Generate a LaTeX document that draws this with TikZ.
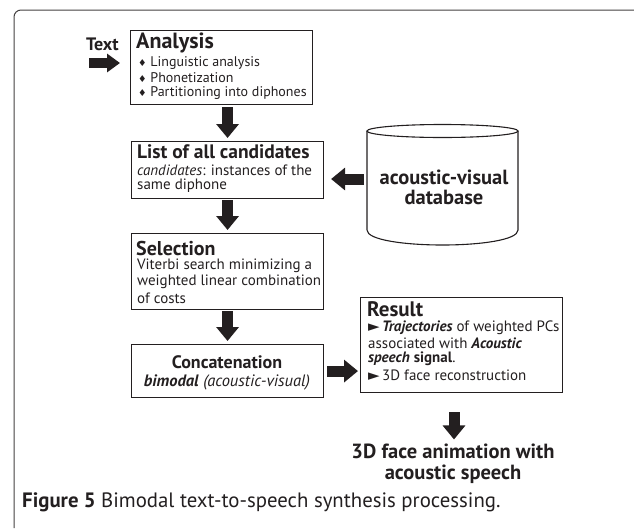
\documentclass[tikz,border=0pt]{standalone}
\usepackage{fontspec}
\setmainfont{PT Sans}
\newfontfamily\symf{DejaVu Sans}
\usetikzlibrary{arrows.meta}
\definecolor{ink}{HTML}{231F20}
\newcommand{\mydia}{{\symf\fontsize{9.5}{9.5}\selectfont ♦}}
\newcommand{\mytri}{{\symf\fontsize{15}{15}\selectfont ►}}
\begin{document}
\begin{tikzpicture}[x=1pt,y=-1pt,
  box/.style={draw=ink, line width=1.1pt, inner sep=0pt, anchor=north west},
  txt/.style={inner sep=0pt, anchor=west, text=ink},
  ctxt/.style={inner sep=0pt, anchor=center, text=ink, align=center},
  body/.style={font=\fontsize{15}{17}\selectfont},
  blk/.style={draw=ink, line width=11pt, -{Triangle[width=22pt,length=14pt]}},
  blks/.style={draw=ink, line width=10pt, -{Triangle[width=18pt,length=13pt]}}]
\useasboundingbox (0,0) rectangle (634,528);
% outer frame
\draw[draw=ink!85, line width=1pt, rounded corners=7pt] (634,10) -- (14,10) -- (14,528);

% boxes
\node[box, minimum width=182pt, minimum height=74pt] (ana) at (130,30) {};
\node[box, minimum width=192pt, minimum height=57pt] (list) at (131,141) {};
\node[box, minimum width=192pt, minimum height=76pt] (sel) at (131,233) {};
\node[box, minimum width=192pt, minimum height=53pt] (conc) at (131,344) {};
\node[box, minimum width=202pt, minimum height=95pt] (res) at (360,297) {};

% cylinder
\draw[draw=ink, line width=1.1pt] (367,131) -- (367,230) .. controls (367,250) and (518,250) .. (518,230) -- (518,131);
\draw[draw=ink, line width=1.1pt] (442.5,131) ellipse [x radius=75.5pt, y radius=6.5pt];
\node[ctxt, font=\bfseries\fontsize{20.5}{20}\selectfont] (db) at (444,187.5) {acoustic-visual\\database};

% Text input
\node[txt, font=\bfseries\fontsize{18}{18}\selectfont] (intext) at (86,44) {Text};
\coordinate (ta) at (89,63);

% Analysis
\node[txt, font=\bfseries\fontsize{22}{22}\selectfont] (anat) at (136,43) {Analysis};
\node[txt, font=\fontsize{14}{16}\selectfont] (an1) at (138,63) {\mydia\ Linguistic analysis};
\node[txt, font=\fontsize{14}{16}\selectfont] (an2) at (138,78) {\mydia\ Phonetization};
\node[txt, font=\fontsize{14}{16}\selectfont] (an3) at (138,93) {\mydia\ Partitioning into diphones};

% List
\node[txt, font=\bfseries\fontsize{19.5}{20}\selectfont] (lt) at (137,152) {List of all candidates};
\node[txt, body] (l1) at (137,170) {\textit{candidates}: instances of the};
\node[txt, body] (l2) at (137,186) {same diphone};

% Selection
\node[txt, font=\bfseries\fontsize{20}{20}\selectfont] (st) at (136,248) {Selection};
\node[txt, body] (s1) at (137,266) {Viterbi search minimizing a};
\node[txt, body] (s2) at (137,282) {weighted linear combination};
\node[txt, body] (s3) at (137,298) {of costs};

% Concatenation
\node[ctxt, font=\bfseries\fontsize{18}{19}\selectfont] (ct) at (227,362) {Concatenation};
\node[ctxt, font=\fontsize{16.5}{18}\selectfont] (c1) at (227,382) {\textbf{\textit{bimodal}} \textit{(acoustic-visual)}};

% Result
\node[txt, font=\bfseries\fontsize{21}{21}\selectfont] (rt) at (367,309) {Result};
\node[txt, body] (r1) at (368,328) {\mytri\,\textbf{\textit{Trajectories}} of weighted PCs};
\node[txt, body] (r2) at (368,343) {associated with \textbf{\textit{Acoustic}}};
\node[txt, body] (r3) at (368,359) {\textbf{\textit{speech}} \textbf{signal}.};
\node[txt, body] (r4) at (368,375) {\mytri\,3D face reconstruction};

% final
\node[ctxt, font=\bfseries\fontsize{20.5}{21}\selectfont] (fin) at (453,463.5) {3D face animation with\\acoustic speech};

% caption
\node[txt, font=\fontsize{20.8}{22}\selectfont] (cap) at (22,502) {\textbf{Figure 5} Bimodal text-to-speech synthesis processing.};

% arrows
\coordinate (dbl) at (364,179);
\coordinate (fa) at (454,412);
\draw[blks] (ta) -- ([xshift=-10pt]ana.west |- ta);
\draw[blk] ([yshift=-2pt]ana.south -| list.north) -- ([yshift=3pt]list.north);
\draw[blk] ([yshift=-1pt]list.south) -- ([yshift=3pt]sel.north);
\draw[blk] ([yshift=-1pt]sel.south) -- ([yshift=3pt]conc.north);
\draw[blk] (dbl) -- ([xshift=7pt]list.east |- dbl);
\draw[blk] ([xshift=3pt]conc.east) -- ([xshift=-2pt]conc.east -| res.west);
\draw[blk] (fa) -- ([yshift=4pt]fa |- fin.north);
\end{tikzpicture}
\end{document}
